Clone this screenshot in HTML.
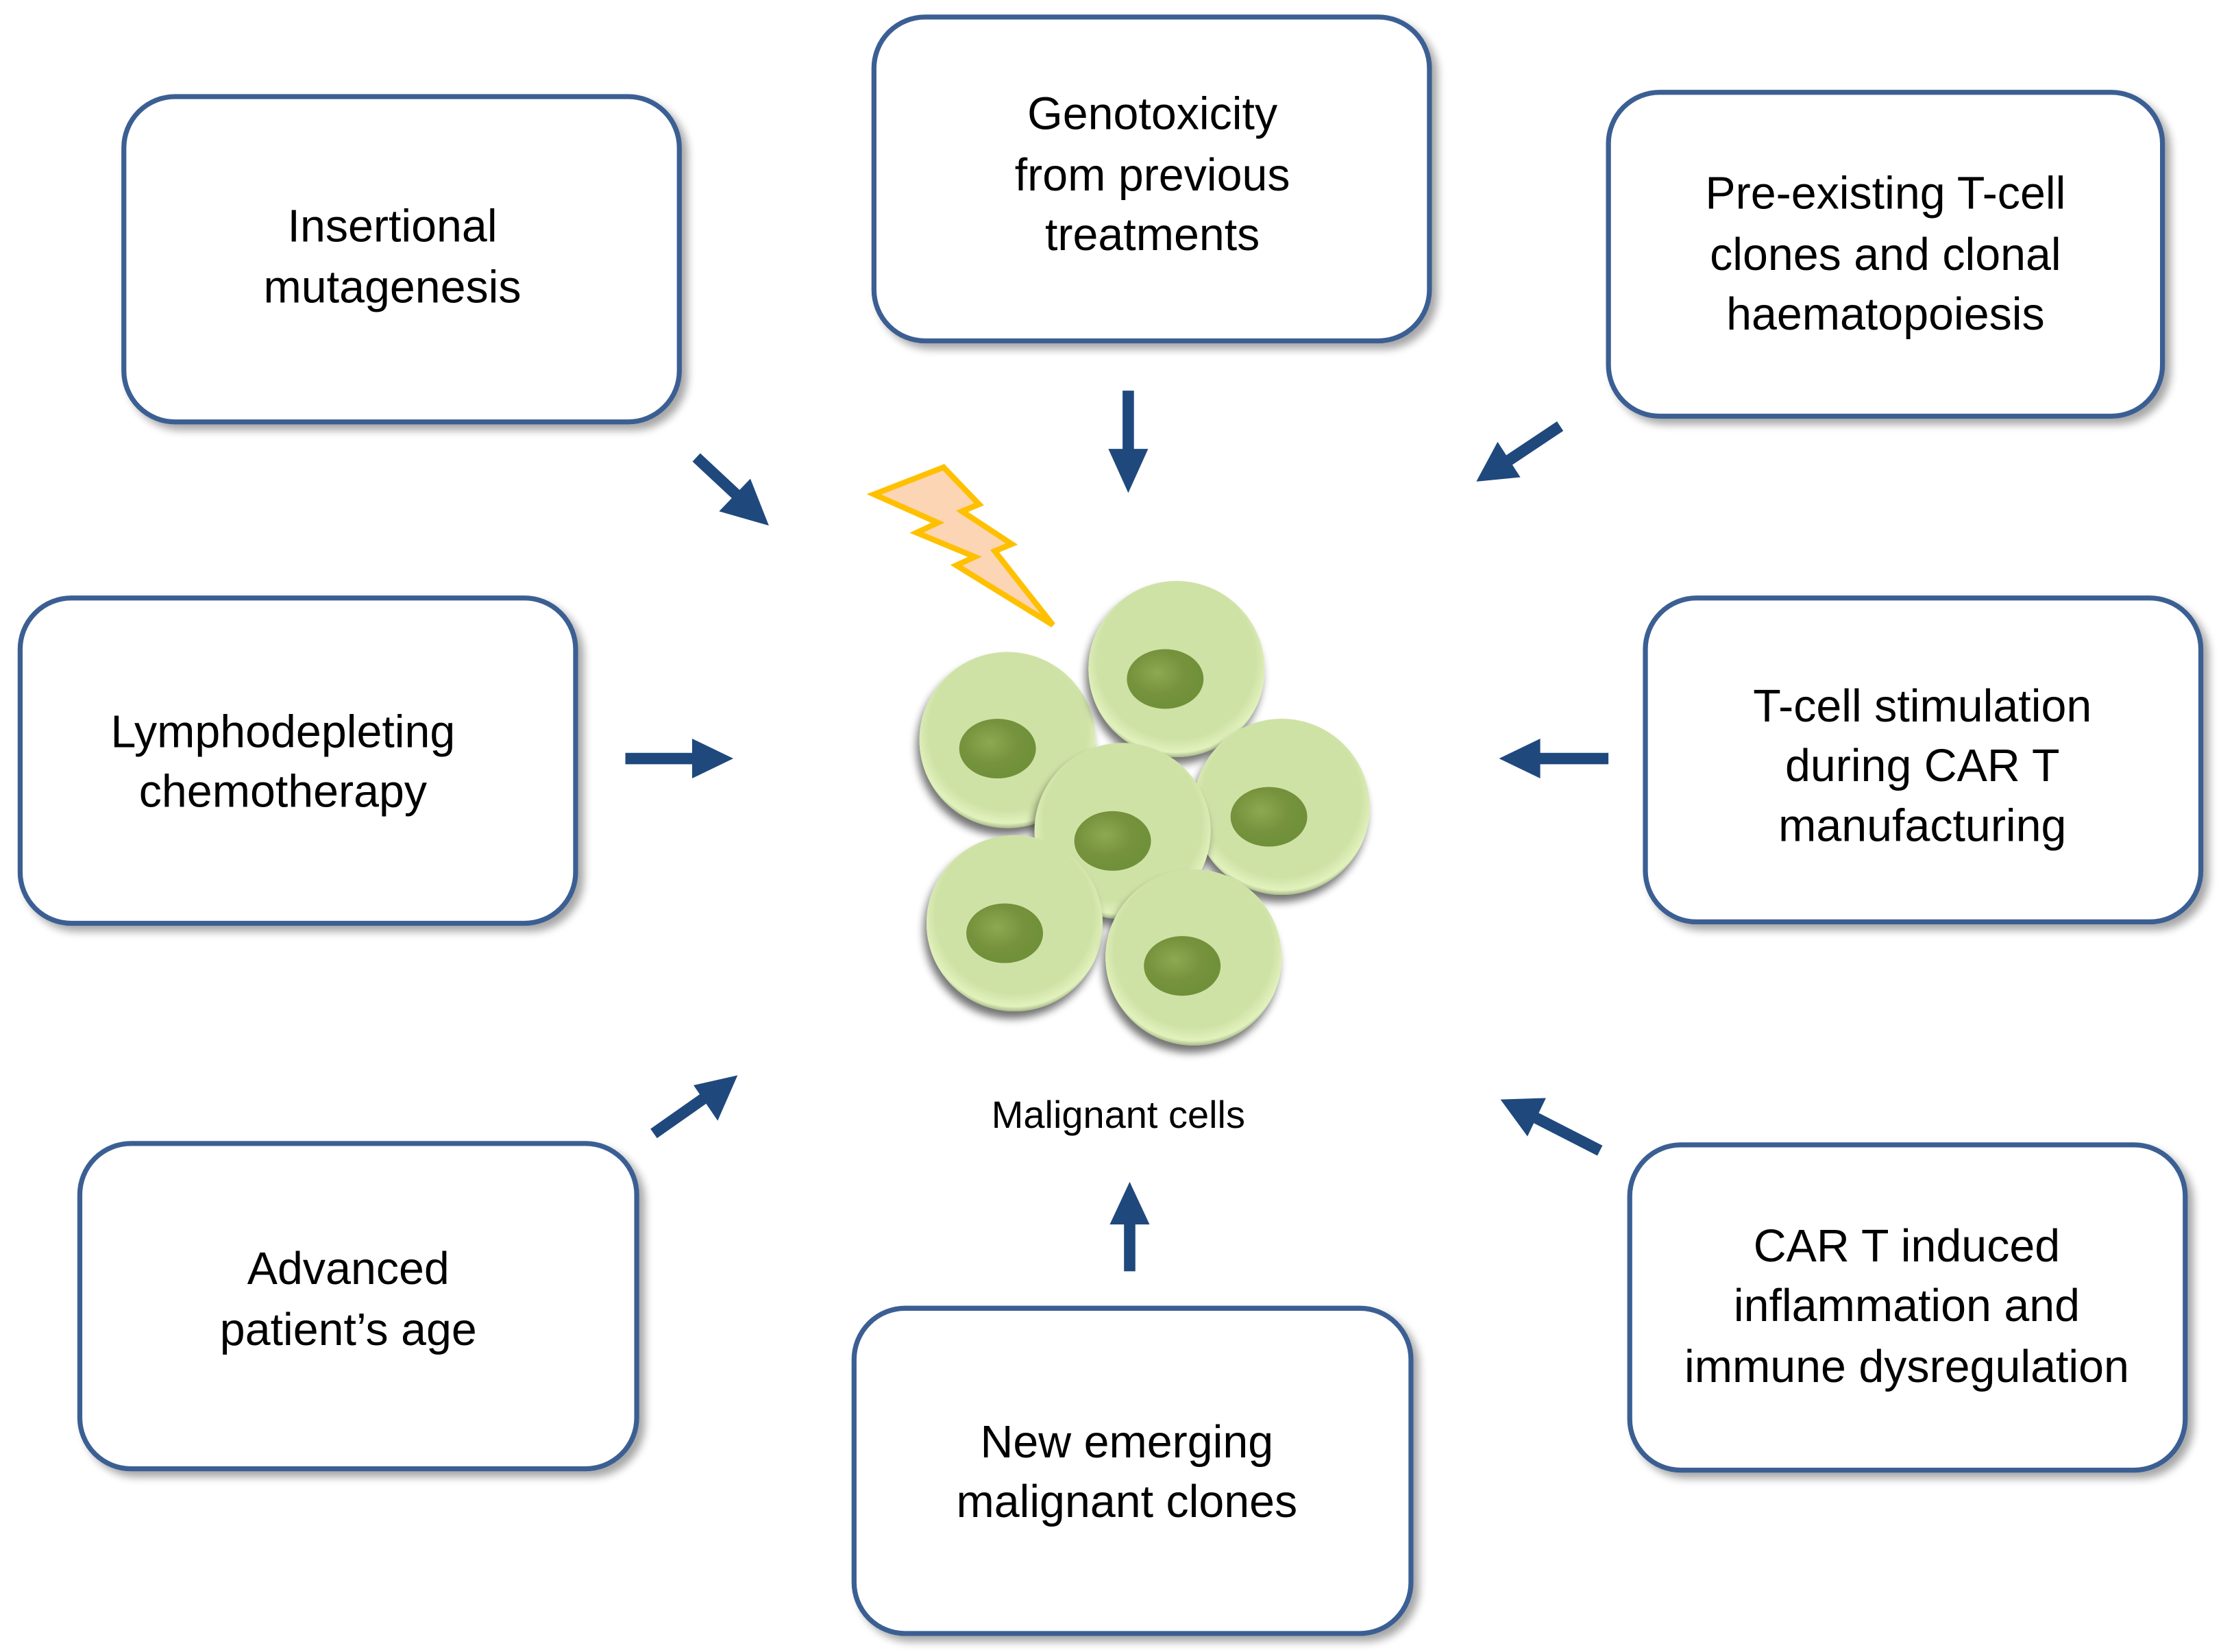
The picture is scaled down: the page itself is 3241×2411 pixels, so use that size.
<!DOCTYPE html>
<html><head><meta charset="utf-8"><style>
html,body{margin:0;padding:0;background:#fff}
svg{display:block}
text{font-family:"Liberation Sans",sans-serif;fill:#000}
</style></head><body>
<svg width="3241" height="2411" viewBox="0 0 1563 1163" xmlns="http://www.w3.org/2000/svg">
<defs>
<filter id="sh" x="-10%" y="-10%" width="125%" height="125%">
<feGaussianBlur in="SourceAlpha" stdDeviation="3"/><feOffset dx="4" dy="4"/>
<feComponentTransfer><feFuncA type="linear" slope="0.35"/></feComponentTransfer>
<feMerge><feMergeNode/><feMergeNode in="SourceGraphic"/></feMerge></filter>
<filter id="cs" x="-20%" y="-20%" width="140%" height="140%">
<feGaussianBlur in="SourceAlpha" stdDeviation="3"/><feOffset dx="-2" dy="5"/>
<feComponentTransfer><feFuncA type="linear" slope="0.55"/></feComponentTransfer>
<feMerge><feMergeNode/><feMergeNode in="SourceGraphic"/></feMerge></filter>
<radialGradient id="cg" cx="50%" cy="45%" r="55%">
<stop offset="0.82" stop-color="#cfe2a6"/><stop offset="0.95" stop-color="#e2f2bd"/><stop offset="1" stop-color="#a9b98a"/></radialGradient>
<radialGradient id="ng" cx="40%" cy="40%" r="60%">
<stop offset="0" stop-color="#8daa52"/><stop offset="0.6" stop-color="#76923c"/><stop offset="1" stop-color="#70903a"/></radialGradient>
<g id="cell"><circle r="62" fill="url(#cg)" filter="url(#cs)"/></g>
</defs>
<g fill="#fff" stroke="#3b5f93" stroke-width="3.5" filter="url(#sh)">
<rect x="87" y="68" width="391" height="229" rx="36"/>
<rect x="615" y="12" width="391" height="228" rx="36"/>
<rect x="1132" y="65" width="390" height="228" rx="36"/>
<rect x="14" y="421" width="391" height="229" rx="36"/>
<rect x="1158" y="421" width="391" height="228" rx="36"/>
<rect x="56" y="805" width="392" height="229" rx="36"/>
<rect x="601" y="921" width="392" height="229" rx="36"/>
<rect x="1147" y="806" width="391" height="229" rx="36"/>
</g>
<g font-size="32" text-anchor="middle">
<text x="276" y="170">Insertional</text><text x="276" y="213">mutagenesis</text>
<text x="811" y="91">Genotoxicity</text><text x="811" y="134">from previous</text><text x="811" y="176">treatments</text>
<text x="1327" y="147">Pre-existing T-cell</text><text x="1327" y="190">clones and clonal</text><text x="1327" y="232">haematopoiesis</text>
<text x="199" y="526">Lymphodepleting</text><text x="199" y="568">chemotherapy</text>
<text x="1353" y="508">T-cell stimulation</text><text x="1353" y="550">during CAR T</text><text x="1353" y="592">manufacturing</text>
<text x="245" y="904">Advanced</text><text x="245" y="947">patient’s age</text>
<text x="793" y="1026">New emerging</text><text x="793" y="1068">malignant clones</text>
<text x="1342" y="888">CAR T induced</text><text x="1342" y="930">inflammation and</text><text x="1342" y="973">immune dysregulation</text>
<text x="787" y="794" font-size="27">Malignant cells</text>
</g>
<g stroke="#1f497d" stroke-width="8" fill="#1f497d">
<line x1="490" y1="322" x2="520" y2="350"/>
<line x1="794" y1="275" x2="794" y2="320"/>
<line x1="1098" y1="300" x2="1062" y2="324"/>
<line x1="440" y1="534" x2="490" y2="534"/>
<line x1="1132" y1="534" x2="1082" y2="534"/>
<line x1="460" y1="798" x2="497" y2="772"/>
<line x1="795" y1="895" x2="795" y2="858"/>
<line x1="1126" y1="810" x2="1081" y2="787"/>
</g>
<g fill="#1f497d">
<polygon points="541,370 506,360 528,337"/>
<polygon points="794,347 780,316 808,316"/>
<polygon points="1039,339 1054,311 1070,336"/>
<polygon points="516,534 487,520 487,548"/>
<polygon points="1055,534 1084,520 1084,548"/>
<polygon points="519,757 488,764 505,789"/>
<polygon points="795,832 781,862 809,862"/>
<polygon points="1056,774 1088,773 1075,800"/>
</g>
<polygon points="615,348 664,329 689,355 677,360 712,383 700,388 741,440 673,398 686,392 645,375 660,368" fill="#fcd5b5" stroke="#ffc000" stroke-width="4" stroke-linejoin="miter"/>
<use href="#cell" x="709" y="521"/><ellipse cx="702" cy="527" rx="27" ry="21" fill="url(#ng)"/>
<use href="#cell" x="828" y="471"/><ellipse cx="820" cy="478" rx="27" ry="21" fill="url(#ng)"/>
<use href="#cell" x="902" y="568"/><ellipse cx="893" cy="575" rx="27" ry="21" fill="url(#ng)"/>
<use href="#cell" x="790" y="585"/><ellipse cx="783" cy="592" rx="27" ry="21" fill="url(#ng)"/>
<use href="#cell" x="714" y="650"/><ellipse cx="707" cy="657" rx="27" ry="21" fill="url(#ng)"/>
<use href="#cell" x="840" y="674"/><ellipse cx="832" cy="680" rx="27" ry="21" fill="url(#ng)"/>
</svg>
</body></html>
